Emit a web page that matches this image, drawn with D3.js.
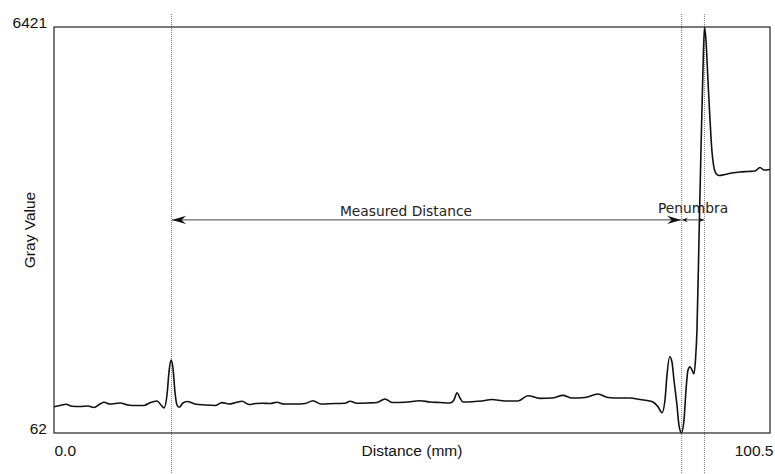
<!DOCTYPE html>
<html>
<head>
<meta charset="utf-8">
<title>Gray Value profile</title>
<script src="https://cdn.jsdelivr.net/npm/d3@7"></script>
<style>
  body { margin: 0; background: #fff; }
  svg { display: block; }
  .tick-label, .axis-title { font-family: "Liberation Sans", Arial, sans-serif; font-size: 15.5px; fill: #111; }
  .note { font-family: "DejaVu Sans", sans-serif; font-size: 13.8px; fill: #222; }
</style>
</head>
<body>
<div id="chart"></div>
<script>
// profile: distance (mm) and gray value
var distance = [0.00, 0.84, 1.68, 2.53, 3.65, 4.77, 5.61, 6.46, 7.02, 7.86,
  9.26, 10.39, 11.51, 12.63, 13.47, 14.46, 15.02, 15.44, 15.86, 16.14,
  16.42, 16.70, 16.98, 17.26, 17.55, 18.11, 18.67, 19.79, 21.19, 22.60,
  23.58, 24.56, 25.55, 26.39, 27.37, 28.35, 29.19, 30.32, 31.30, 32.28,
  33.83, 35.23, 36.35, 37.48, 39.44, 40.84, 41.55, 42.53, 44.07, 45.34,
  46.46, 47.44, 49.27, 51.37, 52.78, 54.18, 55.58, 56.14, 56.57, 56.99,
  57.41, 58.67, 60.07, 61.48, 63.30, 65.13, 66.53, 68.22, 69.90, 71.44,
  72.71, 74.53, 76.36, 77.76, 79.44, 80.85, 82.25, 83.93, 84.78, 85.34,
  85.76, 86.04, 86.42, 86.74, 87.02, 87.44, 87.72, 88.07, 88.43, 88.71,
  88.99, 89.27, 89.55, 89.83, 90.04, 90.25, 90.53, 90.81, 91.09, 91.30,
  91.51, 91.79, 92.08, 92.36, 92.57, 92.92, 93.34, 94.18, 95.16, 96.29,
  97.41, 98.39, 99.10, 99.66, 100.50];
var gray = [474, 493, 512, 480, 477, 485, 461, 516, 543, 516,
  532, 501, 493, 493, 537, 563, 501, 454, 657, 1017,
  1205, 1080, 704, 501, 465, 532, 555, 516, 501, 493,
  537, 516, 540, 559, 508, 524, 527, 524, 543, 516,
  516, 524, 568, 516, 524, 527, 559, 527, 532, 540,
  595, 540, 543, 568, 548, 540, 532, 579, 693, 610,
  548, 552, 563, 587, 563, 563, 646, 605, 610, 652,
  610, 618, 673, 618, 610, 610, 587, 555, 474, 380,
  579, 970, 1257, 1174, 892, 501, 187, 67, 266, 736,
  1049, 1100, 1049, 986, 1205, 1675, 3085, 4495, 5748, 6421,
  6218, 5591, 4965, 4463, 4260, 4127, 4095, 4111, 4134, 4150,
  4158, 4166, 4221, 4181, 4189];

var xTicks = [0, 100.5];
var yTicks = [62, 6421];
var guideLines = [16.5, 88.1, 91.3];     // dotted verticals (mm)
var arrowLevel = 3400;                   // gray value where the arrows sit
var notes = [
  {label: "Measured Distance", from: 16.5, to: 88.1, at: 49.4, size: "big"},
  {label: "Penumbra", from: 88.1, to: 91.3, at: 89.7, size: "small"}
];

var W = 775, H = 474;
// note: "top" is taken by window.top, so use m* names
var mLeft = 54, mRight = 770, mTop = 27, mBottom = 433;

var svg = d3.select('#chart').append('svg')
  .attr('width', W)
  .attr('height', H);

var x = d3.scaleLinear().domain([0, 100.5]).range([mLeft, mRight]);
var y = d3.scaleLinear().domain([62, 6421]).range([mBottom, mTop]);

// arrow heads
var defs = svg.append('defs');
defs.append('marker')
  .attr('id', 'head-big')
  .attr('viewBox', '-15 -5 16 10')
  .attr('markerWidth', 16).attr('markerHeight', 10)
  .attr('markerUnits', 'userSpaceOnUse')
  .attr('refX', 0).attr('refY', 0)
  .attr('orient', 'auto-start-reverse')
  .append('path')
  .attr('d', 'M0,0 L-14,-4.2 L-9.5,0 L-14,4.2 Z')
  .attr('fill', '#111');
defs.append('marker')
  .attr('id', 'head-small')
  .attr('viewBox', '-7 -3 8 6')
  .attr('markerWidth', 8).attr('markerHeight', 6)
  .attr('markerUnits', 'userSpaceOnUse')
  .attr('refX', 0).attr('refY', 0)
  .attr('orient', 'auto-start-reverse')
  .append('path')
  .attr('d', 'M0,0 L-5.5,-2.4 L-3.8,0 L-5.5,2.4 Z')
  .attr('fill', '#111');

// dotted guide lines, they run past the frame
svg.selectAll('line.guide')
  .data(guideLines)
  .enter()
  .append('line')
  .attr('class', 'guide')
  .attr('x1', function(d){ return x(d); })
  .attr('x2', function(d){ return x(d); })
  .attr('y1', 14)
  .attr('y2', H)
  .attr('stroke', '#777')
  .attr('stroke-width', 1)
  .attr('stroke-dasharray', '1,1');

// the profile
var line = d3.line()
  .x(function(d){ return x(d[0]); })
  .y(function(d){ return y(d[1]); })
  .curve(d3.curveMonotoneX);

svg.append('path')
  .datum(d3.zip(distance, gray))
  .attr('d', line)
  .attr('fill', 'none')
  .attr('stroke', '#111')
  .attr('stroke-width', 1.6)
  .attr('stroke-linejoin', 'round');

// annotation arrows + text
svg.selectAll('line.arrow')
  .data(notes)
  .enter()
  .append('line')
  .attr('class', 'arrow')
  .attr('x1', function(d){ return x(d.from) + 0.5; })
  .attr('x2', function(d){ return x(d.to) - 0.5; })
  .attr('y1', y(arrowLevel))
  .attr('y2', y(arrowLevel))
  .attr('stroke', '#444')
  .attr('stroke-width', 1)
  .attr('marker-start', function(d){ return 'url(#head-' + d.size + ')'; })
  .attr('marker-end', function(d){ return 'url(#head-' + d.size + ')'; });

svg.selectAll('text.note')
  .data(notes)
  .enter()
  .append('text')
  .attr('class', 'note')
  .attr('x', function(d){ return x(d.at); })
  .attr('y', function(d){ return y(arrowLevel) - (d.size == 'big' ? 4 : 7); })
  .attr('text-anchor', 'middle')
  .text(function(d){ return d.label; });

// frame
svg.append('rect')
  .attr('x', mLeft).attr('y', mTop)
  .attr('width', mRight - mLeft).attr('height', mBottom - mTop)
  .attr('fill', 'none')
  .attr('stroke', '#222')
  .attr('stroke-width', 1.2);

// axes: only the end labels are shown
var xAxis = svg.append('g')
  .attr('transform', 'translate(0,' + mBottom + ')')
  .call(d3.axisBottom(x).tickValues(xTicks).tickSize(0).tickPadding(0).tickFormat(d3.format('.1f')));
xAxis.select('.domain').remove();
xAxis.selectAll('text')
  .attr('class', 'tick-label')
  .attr('y', 23).attr('dy', 0)
  .attr('text-anchor', function(d, i){ return i == 0 ? 'start' : 'end'; })
  .attr('dx', function(d, i){ return i == 0 ? 0 : 3; });

var yAxis = svg.append('g')
  .attr('transform', 'translate(' + mLeft + ',0)')
  .call(d3.axisLeft(y).tickValues(yTicks).tickSize(0).tickPadding(7).tickFormat(d3.format('d')));
yAxis.select('.domain').remove();
yAxis.selectAll('text')
  .attr('class', 'tick-label')
  .attr('dy', 0);

// axis titles
svg.append('text')
  .attr('class', 'axis-title')
  .attr('x', (mLeft + mRight) / 2)
  .attr('y', 456)
  .attr('text-anchor', 'middle')
  .text('Distance (mm)');

svg.append('text')
  .attr('class', 'axis-title')
  .attr('transform', 'translate(35,' + (mTop + mBottom) / 2 + ') rotate(-90)')
  .attr('text-anchor', 'middle')
  .text('Gray Value');
</script>
</body>
</html>
